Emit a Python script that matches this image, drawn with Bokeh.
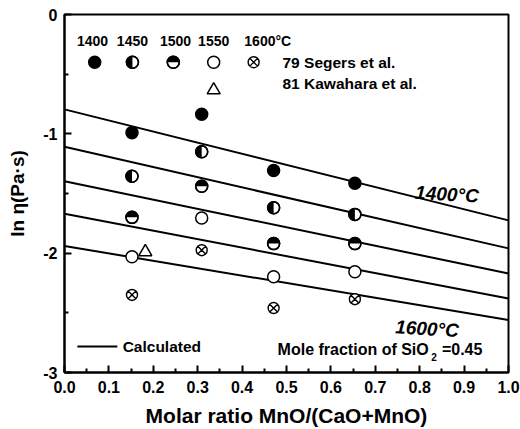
import numpy as np
from bokeh.plotting import figure
from bokeh.models import FixedTicker, Label
from bokeh.embed import file_html
from bokeh.resources import INLINE

# ---- data ----
ratio = [0.152, 0.309, 0.471, 0.654]
ln_eta_1400 = [-0.99, -0.836, -1.308, -1.414]
ln_eta_1450 = [-1.356, -1.15, -1.62, -1.675]
ln_eta_1500 = [-1.70, -1.44, -1.92, -1.92]
ln_eta_1550 = [-2.03, -1.706, -2.197, -2.155]
ln_eta_1600 = [-2.35, -1.975, -2.46, -2.386]
kaw_ratio = [0.182]
kaw_ln_eta = [-1.99]

calc_ratio = [0.0, 1.0]
calc_1400 = [-0.795, -1.725]
calc_1450 = [-1.108, -1.96]
calc_1500 = [-1.397, -2.17]
calc_1550 = [-1.67, -2.38]
calc_1600 = [-1.94, -2.56]

x_ticks = [0.0, 0.1, 0.2, 0.3, 0.4, 0.5, 0.6, 0.7, 0.8, 0.9, 1.0]
x_tick_labels = ["0.0", "0.1", "0.2", "0.3", "0.4", "0.5", "0.6", "0.7", "0.8", "0.9", "1.0"]
y_ticks = [0, -1, -2, -3]
y_tick_labels = ["0", "-1", "-2", "-3"]
legend_temps = ["1400", "1450", "1500", "1550", "1600°C"]

FONT = "Liberation Sans"

p = figure(width=520, height=429, x_range=(0, 1), y_range=(-3, 0),
           output_backend="svg", toolbar_location=None,
           min_border_left=64, min_border_right=12, min_border_top=14, min_border_bottom=56)
p.grid.visible = False
p.outline_line_color = "black"
p.outline_line_width = 2
p.background_fill_color = "white"
p.border_fill_color = "white"

p.xaxis.ticker = FixedTicker(ticks=x_ticks, minor_ticks=list(np.arange(0.05, 1.0, 0.1)))
p.yaxis.ticker = FixedTicker(ticks=y_ticks, minor_ticks=[-0.5, -1.5, -2.5])
p.xaxis.major_label_overrides = {t: l for t, l in zip(x_ticks, x_tick_labels)}
p.yaxis.major_label_overrides = {t: l for t, l in zip(y_ticks, y_tick_labels)}

for ax in (p.xaxis[0], p.yaxis[0]):
    ax.axis_line_width = 2
    ax.major_tick_line_width = 2
    ax.minor_tick_line_width = 2
    ax.major_tick_in = 7
    ax.major_tick_out = 0
    ax.minor_tick_in = 4
    ax.minor_tick_out = 0
    ax.major_label_text_font = FONT
    ax.major_label_text_font_style = "bold"
    ax.major_label_text_font_size = "16px"
    ax.major_label_text_color = "black"
    ax.axis_label_text_font = FONT
    ax.axis_label_text_font_style = "bold"
    ax.axis_label_text_color = "black"

p.xaxis.axis_label = "Molar ratio MnO/(CaO+MnO)"
p.xaxis.axis_label_text_font_size = "21px"
p.xaxis.major_label_standoff = 8
p.xaxis.axis_label_standoff = 8
p.yaxis.axis_label = "ln η(Pa·s)"
p.yaxis.axis_label_text_font_size = "19px"
p.yaxis.major_label_standoff = 7
p.yaxis.axis_label_standoff = 12

# calculated lines
for ys in (calc_1400, calc_1450, calc_1500, calc_1550, calc_1600):
    p.line(calc_ratio, ys, line_color="black", line_width=2)

SZ = 12
R = 6


def full_circle(xs, ys):
    p.scatter(xs, ys, marker="circle", size=SZ, fill_color="black", line_color="black", line_width=1.5)


def half_circle(xs, ys, start, end):
    p.scatter(xs, ys, marker="circle", size=SZ, fill_color="white", line_color="black", line_width=1.5)
    p.wedge(xs, ys, radius=R, radius_units="screen", start_angle=start, end_angle=end,
            fill_color="black", line_color=None)
    p.scatter(xs, ys, marker="circle", size=SZ, fill_color=None, line_color="black", line_width=1.5)


def open_circle(xs, ys):
    p.scatter(xs, ys, marker="circle", size=SZ, fill_color="white", line_color="black", line_width=1.5)


def cross_circle(xs, ys):
    p.scatter(xs, ys, marker="circle_x", size=11, fill_color="white", line_color="black", line_width=1.4)


full_circle(ratio, ln_eta_1400)
half_circle(ratio, ln_eta_1450, np.pi / 2, 3 * np.pi / 2)
half_circle(ratio, ln_eta_1500, 0, np.pi)
open_circle(ratio, ln_eta_1550)
cross_circle(ratio, ln_eta_1600)
p.scatter(kaw_ratio, kaw_ln_eta, marker="triangle", size=13, fill_color="white",
          line_color="black", line_width=1.5)


def lab(x, y, text, size, align="left", style="bold", angle=0.0):
    p.add_layout(Label(x=x, y=y, text=text, text_font=FONT, text_font_style=style,
                       text_font_size=size, text_align=align, text_baseline="middle",
                       text_color="black", angle=angle))


# ---- legend at top ----
hdr_x = [0.063, 0.153, 0.25, 0.336]
for tx, t in zip(hdr_x, legend_temps[:4]):
    lab(tx, -0.225, t, "14px", align="center")
lab(0.405, -0.225, legend_temps[4], "14px")

mk_y = -0.40
full_circle([0.068], [mk_y])
half_circle([0.153], [mk_y], np.pi / 2, 3 * np.pi / 2)
half_circle([0.245], [mk_y], 0, np.pi)
open_circle([0.336], [mk_y])
cross_circle([0.426], [mk_y])
p.scatter([0.336], [-0.633], marker="triangle", size=13, fill_color="white",
          line_color="black", line_width=1.5)

lab(0.491, -0.40, "79 Segers et al.", "15.5px")
lab(0.491, -0.575, "81 Kawahara et al.", "15.5px")

# temperature labels on lines
lab(0.79, -1.49, "1400°C", "19px", style="bold italic", angle=-0.06)
lab(0.745, -2.617, "1600°C", "19px", style="bold italic", angle=-0.06)

# calculated legend
p.line([0.029, 0.119], [-2.783, -2.783], line_color="black", line_width=2)
lab(0.131, -2.783, "Calculated", "15.5px")

# mole fraction note
lab(0.48, -2.81, "Mole fraction of SiO", "16px")
lab(0.826, -2.87, "2", "10px")
lab(0.85, -2.81, "=0.45", "16px")

open("out.html", "w").write(file_html(p, INLINE))
